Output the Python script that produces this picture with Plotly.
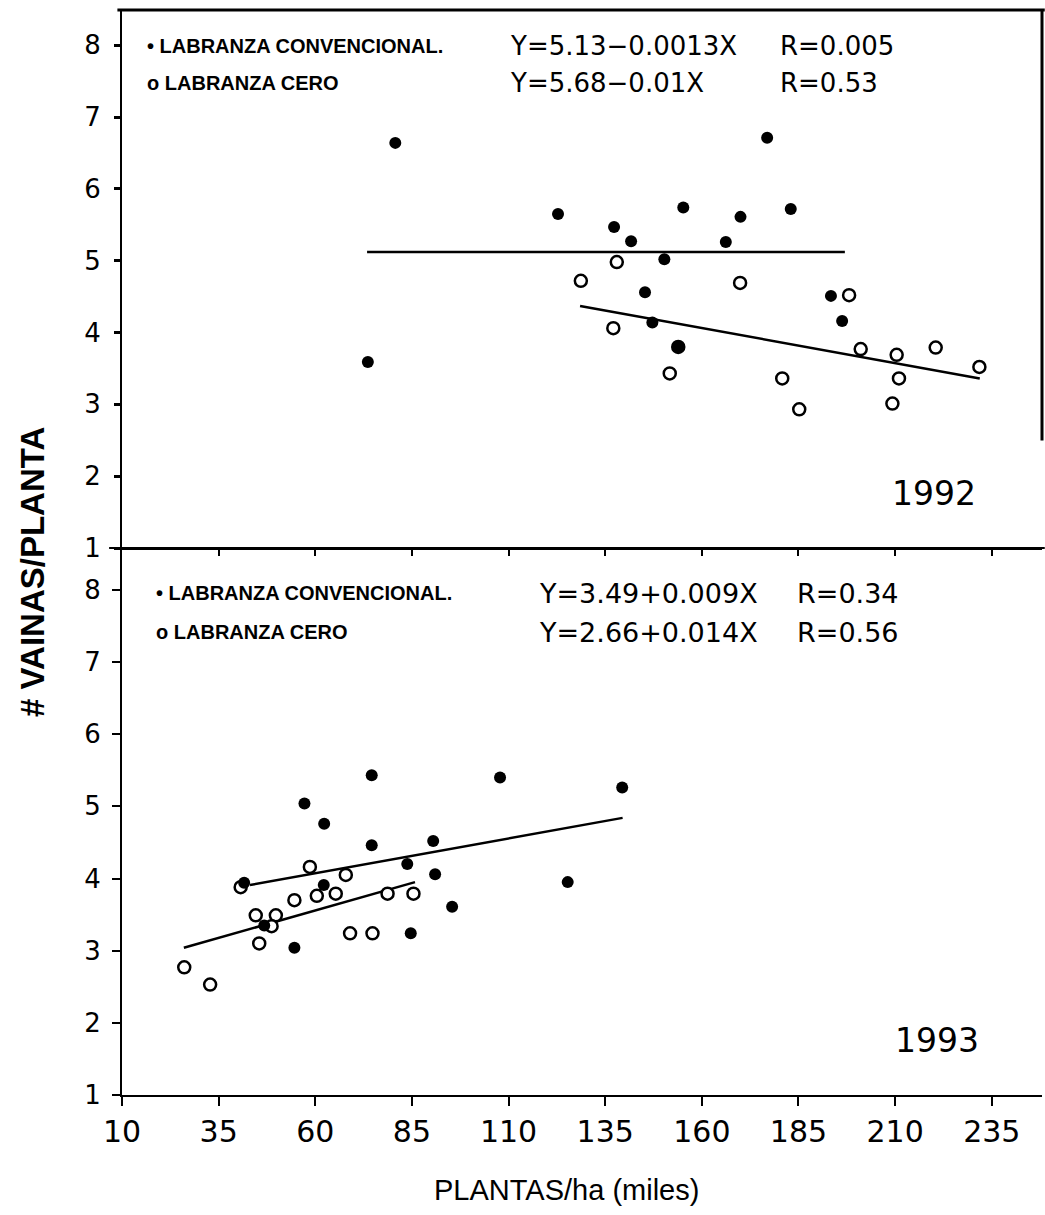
import plotly.graph_objects as go

# ---------------- data ----------------
x_ticks = [10, 35, 60, 85, 110, 135, 160, 185, 210, 235]
y_ticks = [1, 2, 3, 4, 5, 6, 7, 8]

# 1992
top_conv_x = [80.7, 122.8, 137.3, 141.7, 150.3, 145.3, 147.2, 153.9, 73.6, 155.2, 176.9, 170.0, 183.0, 166.2, 193.4, 196.3]
top_conv_y = [6.64, 5.65, 5.47, 5.27, 5.02, 4.56, 4.14, 3.80, 3.59, 5.74, 6.71, 5.61, 5.72, 5.26, 4.51, 4.16]
top_zero_x = [138.0, 128.7, 137.1, 153.9, 151.7, 169.9, 198.1, 201.1, 210.4, 220.5, 231.8, 180.8, 211.0, 185.2, 209.3]
top_zero_y = [4.98, 4.72, 4.06, 3.80, 3.43, 4.69, 4.52, 3.77, 3.69, 3.79, 3.52, 3.36, 3.36, 2.93, 3.01]
top_conv_fit_x = [73.4, 197.0]
top_conv_fit_y = [5.12, 5.12]
top_zero_fit_x = [128.5, 231.9]
top_zero_fit_y = [4.37, 3.36]

# 1993
bot_conv_x = [74.6, 57.2, 62.3, 74.6, 90.5, 83.8, 91.0, 41.6, 62.2, 46.8, 54.6, 84.7, 95.4, 107.8, 139.4, 125.3]
bot_conv_y = [5.43, 5.04, 4.76, 4.46, 4.52, 4.20, 4.06, 3.94, 3.91, 3.35, 3.04, 3.24, 3.61, 5.40, 5.26, 3.95]
bot_zero_x = [40.7, 58.6, 67.9, 54.6, 60.4, 65.3, 78.7, 85.4, 44.6, 49.8, 48.7, 45.5, 69.0, 74.8, 26.1, 32.8]
bot_zero_y = [3.88, 4.16, 4.05, 3.70, 3.76, 3.79, 3.79, 3.79, 3.49, 3.49, 3.34, 3.10, 3.24, 3.24, 2.77, 2.53]
bot_conv_fit_x = [43.1, 139.5]
bot_conv_fit_y = [3.91, 4.84]
bot_zero_fit_x = [26.0, 85.8]
bot_zero_fit_y = [3.04, 3.95]

legend_conv = "• LABRANZA CONVENCIONAL."
legend_zero = "o LABRANZA CERO"
eq_top = ["Y=5.13−0.0013X", "Y=5.68−0.01X"]
r_top = ["R=0.005", "R=0.53"]
eq_bot = ["Y=3.49+0.009X", "Y=2.66+0.014X"]
r_bot = ["R=0.34", "R=0.56"]

# ---------------- figure ----------------
SANS = "Liberation Sans, Arial, sans-serif"
WIDE = "DejaVu Sans, Verdana, sans-serif"
fig = go.Figure()

filled = dict(mode="markers", marker=dict(color="black", size=12, symbol="circle"), showlegend=False)
opened = dict(mode="markers", marker=dict(color="white", size=12, symbol="circle",
                                          line=dict(color="black", width=2.5)), showlegend=False)
fitline = dict(mode="lines", line=dict(color="black", width=2.5), showlegend=False)

# top panel (x2, y2)
fig.add_trace(go.Scatter(x=top_conv_fit_x, y=top_conv_fit_y, xaxis="x2", yaxis="y2", **fitline))
fig.add_trace(go.Scatter(x=top_zero_fit_x, y=top_zero_fit_y, xaxis="x2", yaxis="y2", **fitline))
fig.add_trace(go.Scatter(x=top_zero_x, y=top_zero_y, xaxis="x2", yaxis="y2", **opened))
fig.add_trace(go.Scatter(x=top_conv_x, y=top_conv_y, xaxis="x2", yaxis="y2", **filled))

# bottom panel (x, y)
fig.add_trace(go.Scatter(x=bot_conv_fit_x, y=bot_conv_fit_y, xaxis="x", yaxis="y", **fitline))
fig.add_trace(go.Scatter(x=bot_zero_fit_x, y=bot_zero_fit_y, xaxis="x", yaxis="y", **fitline))
fig.add_trace(go.Scatter(x=bot_zero_x, y=bot_zero_y, xaxis="x", yaxis="y", **opened))
fig.add_trace(go.Scatter(x=bot_conv_x, y=bot_conv_y, xaxis="x", yaxis="y", **filled))

ML, MR, MT, MB = 122, 3, 10, 120
W, H = 1045, 1215
PW, PH = W - ML - MR, H - MT - MB
split = (H - MB - 548) / PH
xr = [10, 248]
xtickfont = dict(family=WIDE, size=30, color="black")
ytickfont = dict(family=WIDE, size=26, color="black")

common = dict(showgrid=False, zeroline=False, showline=True, linecolor="black", linewidth=2,
              tickcolor="black", automargin=False)

fig.update_layout(
    width=W, height=H,
    margin=dict(l=ML, r=MR, t=MT, b=MB, autoexpand=False),
    paper_bgcolor="white", plot_bgcolor="white",
    font=dict(family=SANS, color="black"),
    xaxis=dict(domain=[0, 1], anchor="y", range=xr, tickvals=x_ticks,
               ticks="outside", ticklen=9, tickwidth=2, tickfont=xtickfont, **common),
    yaxis=dict(domain=[0, split], anchor="x", range=[1, 8.58], tickvals=y_ticks,
               ticks="outside", ticklen=8, tickwidth=2, tickfont=ytickfont,
               ticklabelstandoff=6, **common),
    xaxis2=dict(domain=[0, 1], anchor="y2", range=xr, tickvals=x_ticks[1:],
                showticklabels=False,
                ticks="outside", ticklen=6, tickwidth=2, **common),
    yaxis2=dict(domain=[split, 1], anchor="x2", range=[1, 8.49], tickvals=y_ticks,
                ticks="outside", ticklen=6, tickwidth=3, tickfont=ytickfont,
                ticklabelstandoff=8, **common),
)

# extended separation line, top frame line and partial right frame of the top panel
fig.add_shape(type="line", xref="paper", yref="y2 domain", x0=-0.014, x1=1.003, y0=0, y1=0,
              line=dict(color="black", width=2))
fig.add_shape(type="line", xref="paper", yref="y2 domain", x0=-0.005, x1=1.003, y0=1, y1=1,
              line=dict(color="black", width=3))
fig.add_shape(type="line", xref="x2 domain", yref="y2 domain", x0=1, x1=1, y0=0.2, y1=1,
              line=dict(color="black", width=3))


def px_x(px):
    return (px - ML) / PW


def px_y(py):
    return (H - MB - py) / PH


def ann(text, x, y, size, family=SANS, xanchor="left", **kw):
    fig.add_annotation(text=text, x=px_x(x), y=px_y(y), xref="paper", yref="paper", showarrow=False,
                       xanchor=xanchor, yanchor="middle",
                       font=dict(family=family, size=size, color="black"), **kw)


# top texts
ann("<b>" + legend_conv + "</b>", 145, 46, 20)
ann("<b>" + legend_zero + "</b>", 145, 83, 20)
ann(eq_top[0], 508, 46, 26, WIDE)
ann(eq_top[1], 508, 83, 26, WIDE)
ann(r_top[0], 778, 46, 26, WIDE)
ann(r_top[1], 778, 83, 26, WIDE)
ann("1992", 934, 493, 33, WIDE, xanchor="center")

# bottom texts
ann("<b>" + legend_conv + "</b>", 154, 593, 20)
ann("<b>" + legend_zero + "</b>", 154, 632, 20)
ann(eq_bot[0], 537, 593, 27, WIDE)
ann(eq_bot[1], 537, 632, 27, WIDE)
ann(r_bot[0], 795, 593, 27, WIDE)
ann(r_bot[1], 795, 632, 27, WIDE)
ann("1993", 937, 1040, 33, WIDE, xanchor="center")

# axis titles
ann("<b># VAINAS/PLANTA</b>", 32, 572, 33, xanchor="center", textangle=-90)
ann("PLANTAS/ha (miles)", 566, 1190, 29, xanchor="center")

fig.write_html("out.html", config={"displayModeBar": False},
               post_script="document.body.style.margin='0px';document.body.style.overflow='hidden';")
